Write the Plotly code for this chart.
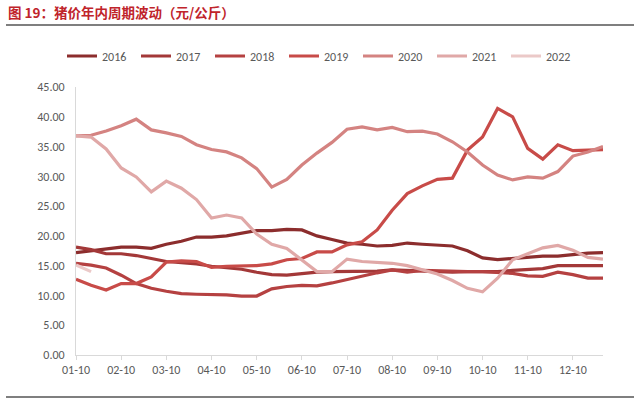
import plotly.graph_objects as go

months = ["01", "02", "03", "04", "05", "06", "07", "08", "09", "10", "11", "12"]
days = ["10", "20", "30"]
categories = [f"{m}-{d}" for m in months for d in days]

s2016 = [17.2, 17.5, 17.7, 18.1, 18.1, 17.9, 18.6, 19.1, 19.8, 19.8, 20.0, 20.4,
         20.9, 20.9, 21.1, 21.0, 20.0, 19.4, 18.8, 18.6, 18.3, 18.4, 18.8, 18.6,
         18.5, 18.3, 17.5, 16.3, 16.0, 16.2, 16.5, 16.6, 16.6, 16.9, 17.1, 17.2]
s2017 = [18.1, 17.7, 17.0, 17.0, 16.7, 16.2, 15.7, 15.5, 15.3, 14.9, 14.7, 14.4,
         13.9, 13.5, 13.4, 13.7, 13.9, 14.0, 14.0, 14.0, 14.1, 14.3, 14.2, 14.1,
         14.0, 13.9, 14.0, 14.0, 14.0, 14.2, 14.3, 14.5, 15.0, 15.0, 15.0, 15.0]
s2018 = [15.4, 15.1, 14.6, 13.4, 12.0, 11.2, 10.7, 10.3, 10.2, 10.2, 10.1, 9.9,
         9.9, 11.1, 11.5, 11.7, 11.6, 12.1, 12.7, 13.2, 13.8, 14.3, 13.9, 14.2,
         14.1, 14.0, 14.0, 14.0, 13.9, 13.7, 13.3, 13.2, 13.9, 13.5, 12.9, 12.9]
s2019 = [12.7, 11.7, 10.9, 12.0, 12.0, 13.1, 15.6, 15.8, 15.7, 14.7, 14.9, 15.0,
         15.0, 15.3, 16.0, 16.2, 17.3, 17.3, 18.5, 19.0, 21.0, 24.3, 27.1, 28.4,
         29.5, 29.7, 34.4, 36.6, 41.4, 40.0, 34.7, 32.9, 35.3, 34.3, 34.4, 34.5]
s2020 = [36.8, 36.9, 37.6, 38.5, 39.6, 37.8, 37.3, 36.7, 35.3, 34.5, 34.1, 33.1,
         31.3, 28.2, 29.5, 31.9, 33.9, 35.7, 37.9, 38.3, 37.8, 38.2, 37.5, 37.6,
         37.1, 35.8, 34.1, 31.9, 30.2, 29.4, 29.9, 29.7, 30.8, 33.4, 34.1, 35.0]
s2021 = [36.8, 36.6, 34.6, 31.4, 29.9, 27.4, 29.2, 28.0, 26.1, 23.0, 23.5, 23.0,
         20.3, 18.6, 17.9, 16.0, 14.0, 14.0, 16.1, 15.7, 15.6, 15.4, 15.0, 14.3,
         13.6, 12.5, 11.2, 10.6, 12.9, 16.0, 17.0, 18.0, 18.4, 17.6, 16.4, 16.1]
s2022 = [15.1, 14.0]

series = [
    ("2016", s2016, "#8C2D2D"),
    ("2017", s2017, "#A33838"),
    ("2018", s2018, "#B54141"),
    ("2019", s2019, "#C84B48"),
    ("2020", s2020, "#D48381"),
    ("2021", s2021, "#E0A8A7"),
    ("2022", s2022, "#EBC9C8"),
]

tick_idx = list(range(0, 36, 3))
tick_text = [categories[i] for i in tick_idx]

fig = go.Figure()
for name, vals, color in series:
    fig.add_trace(go.Scatter(
        x=list(range(len(vals))), y=vals, name=name, mode="lines",
        line=dict(color=color, width=3.2),
    ))

gray = "#595959"
fig.update_layout(
    width=640, height=402,
    margin=dict(l=76, r=37, t=87, b=47),
    paper_bgcolor="white", plot_bgcolor="white",
    font=dict(family="Calibri, Carlito, 'Open Sans', sans-serif", color=gray, size=11),
    showlegend=True,
    legend=dict(
        orientation="h", x=(62 - 76) / 527, y=(355 - 56) / 268, xanchor="left", yanchor="middle",
        font=dict(size=12, color=gray), entrywidth=29, entrywidthmode="pixels",
        itemwidth=30, tracegroupgap=0, bgcolor="rgba(0,0,0,0)",
    ),
    xaxis=dict(
        range=[0, 35], tickmode="array", tickvals=tick_idx, ticktext=tick_text,
        showgrid=False, zeroline=False, showline=True, linecolor="#D9D9D9", linewidth=1,
        ticks="outside", ticklen=4, tickcolor="#D9D9D9", tickfont=dict(size=12, color=gray),
    ),
    yaxis=dict(
        range=[0, 45], tickmode="array", tickvals=[0, 5, 10, 15, 20, 25, 30, 35, 40, 45],
        tickformat=".2f", showgrid=False, zeroline=False, showline=True,
        linecolor="#D9D9D9", linewidth=1, ticks="", tickfont=dict(size=12, color=gray),
        ticklabelstandoff=8,
    ),
)

fig.add_annotation(
    text="<b>图 19：猪价年内周期波动（元/公斤）</b>",
    xref="paper", yref="paper", x=(6 - 76) / 527, y=(355 - 12) / 268,
    xanchor="left", yanchor="middle", showarrow=False,
    font=dict(family="Noto Sans CJK SC", size=13.5, color="#C0242B"),
)
for ypix in (25, 397):
    fig.add_shape(
        type="line", xref="paper", yref="paper",
        x0=(6 - 76) / 527, x1=(634 - 76) / 527,
        y0=(355 - ypix) / 268, y1=(355 - ypix) / 268,
        line=dict(color="#000000", width=1.2),
    )

fig.write_html("out.html")
